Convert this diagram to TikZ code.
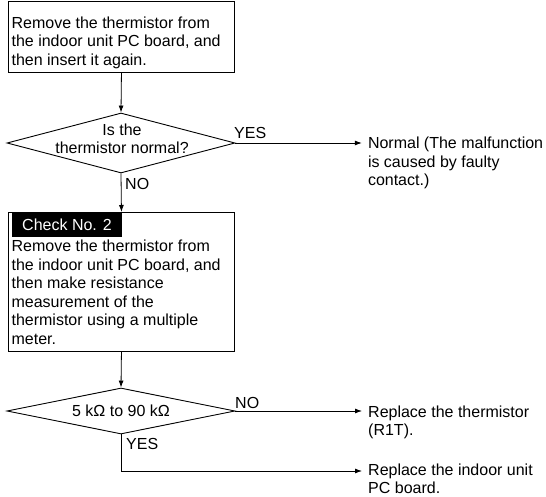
\documentclass[tikz,border=0pt]{standalone}
\usepackage{fontspec}
\setmainfont{Liberation Sans}
\usetikzlibrary{shapes.geometric,arrows.meta}
\begin{document}
\begin{tikzpicture}[x=1pt,y=-1pt,
  box/.style={draw, line width=0.9pt, rectangle, inner sep=0pt, anchor=north west, minimum width=226pt},
  decision/.style={draw, diamond, line width=0.9pt, inner sep=0pt, minimum width=228pt, aspect=5},
  txt/.style={font=\fontsize{16}{18.5}\selectfont, inner sep=0pt, align=left, anchor=north west},
  lbl/.style={font=\fontsize{16}{18.5}\selectfont, inner sep=0pt, anchor=base west},
  conn/.style={line width=0.8pt, black},
  arr/.style={conn, -{Latex[length=7pt,width=5pt]}}
]
\useasboundingbox (0,0) rectangle (546,497);

% first box
\node[box, minimum height=70.5pt] (b1) at (8,1.5) {};
\node[txt] (t1) at (11.4,15.35) {\strut Remove the thermistor from\\the indoor unit PC board, and\\then insert it again.};

% first decision
\node[decision, minimum height=60pt] (d1) at (121,143) {};
\node[txt, align=center, anchor=north] (d1t) at (122,122.05) {\strut Is the\\thermistor normal?};
\node[lbl] (yes1) at (234,139) {YES};
\node[lbl] (no1) at (125,190) {NO};
\node[txt] (n1) at (367.8,135.85) {\strut Normal (The malfunction\\is caused by faulty\\contact.)};

% second box
\node[box, minimum height=139pt] (b2) at (8,212) {};
\node[fill=black, text=white, font=\fontsize{16}{18.5}\selectfont, minimum width=110pt, minimum height=23pt, inner sep=0pt] (chk) at (67,225) {Check No. 2};
\node[txt] (t2) at (11.4,238.75) {\strut Remove the thermistor from\\the indoor unit PC board, and\\then make resistance\\measurement of the\\thermistor using a multiple\\meter.};

% second decision
\node[decision, minimum height=46pt, font=\fontsize{16}{18.5}\selectfont] (d2) at (121,411) {5 kΩ to 90 kΩ};
\node[lbl] (no2) at (235,408) {NO};
\node[lbl] (yes2) at (126,449) {YES};
\node[txt] (n3) at (368,404.05) {\strut Replace the thermistor\\(R1T).};
\node[txt] (n4) at (368,462.3) {\strut Replace the indoor unit\\PC board.};
\coordinate (c1) at (121,471);

% connectors
\draw[arr] (b1.south) -- (d1.north);
\draw[arr] (d1.east) -- ([xshift=-6pt]n1.west |- d1.east);
\draw[arr] (d1.south) -- (b2.north);
\draw[arr] (b2.south) -- (d2.north);
\draw[arr] (d2.east) -- ([xshift=-6pt]n3.west |- d2.east);
\draw[arr] (d2.south) -- (c1) -- ([xshift=-6pt]n4.west |- c1);
\end{tikzpicture}
\end{document}
